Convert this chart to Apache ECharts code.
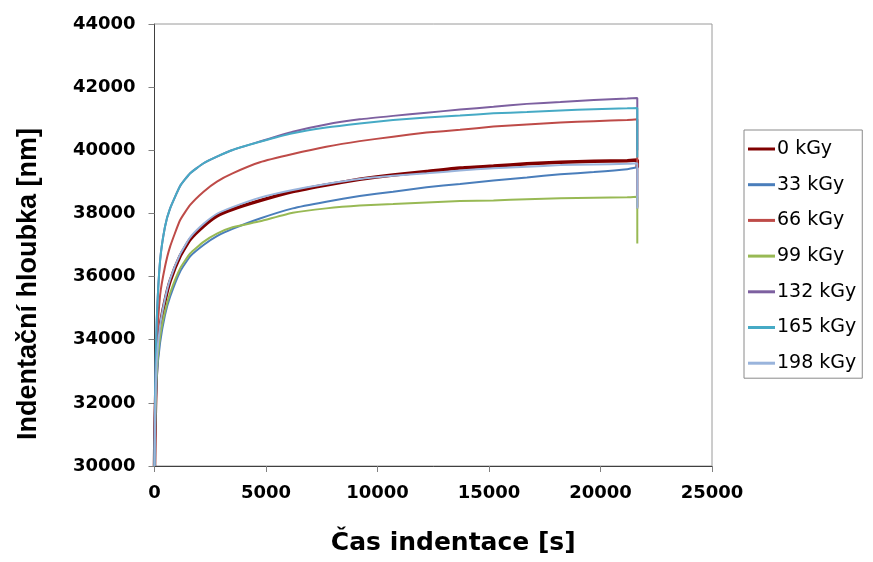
<!DOCTYPE html>
<html>
<head>
<meta charset="utf-8">
<script src="https://cdn.jsdelivr.net/npm/echarts@6/dist/echarts.min.js"></script>
<style>
  html, body { margin: 0; padding: 0; background: #fff; }
  #chart { width: 873px; height: 562px; }
</style>
</head>
<body>
<div id="chart"></div>
<script>
// Time points [s] (last value repeated for the unloading drop)
const times = [0, 30, 100, 250, 470, 700, 1150, 1600, 2200, 2800, 3500, 4730, 6200, 7700, 9200, 10700, 12200, 13700, 15200, 16700, 18200, 19700, 21200, 21650, 21650];

const seriesNames = ["0 kGy", "33 kGy", "66 kGy", "99 kGy", "132 kGy", "165 kGy", "198 kGy"];

const depth0   = [30000, 31500, 33200, 34400, 35230, 35860, 36650, 37180, 37600, 37920, 38130, 38405, 38690, 38900, 39080, 39220, 39330, 39440, 39500, 39570, 39620, 39650, 39670, 39690, 39450];
const depth33  = [30000, 31200, 32800, 33900, 34780, 35360, 36160, 36640, 37000, 37280, 37510, 37840, 38160, 38370, 38550, 38690, 38830, 38930, 39040, 39140, 39240, 39310, 39400, 39460, 38200];
const depth66  = [30000, 32000, 33800, 35400, 36310, 36950, 37790, 38270, 38690, 39010, 39270, 39620, 39880, 40110, 40290, 40430, 40560, 40650, 40750, 40820, 40880, 40920, 40960, 40980, 38160];
const depth99  = [30000, 31300, 33000, 34100, 34900, 35480, 36260, 36730, 37100, 37360, 37560, 37750, 38020, 38160, 38250, 38300, 38350, 38390, 38410, 38450, 38480, 38500, 38510, 38530, 37050];
const depth132 = [30000, 32500, 34600, 36500, 37580, 38160, 38870, 39270, 39590, 39800, 40010, 40280, 40590, 40820, 40980, 41090, 41190, 41290, 41380, 41470, 41530, 41590, 41640, 41660, 40000];
const depth165 = [30000, 32500, 34600, 36500, 37580, 38160, 38870, 39270, 39590, 39800, 40010, 40270, 40540, 40720, 40850, 40960, 41040, 41100, 41170, 41210, 41260, 41300, 41330, 41340, 39770];
const depth198 = [30000, 31600, 33300, 34450, 35290, 35920, 36710, 37240, 37670, 37990, 38200, 38500, 38740, 38930, 39090, 39190, 39270, 39360, 39430, 39480, 39530, 39550, 39570, 39590, 38160];

const allDepths = [depth0, depth33, depth66, depth99, depth132, depth165, depth198];
const colors = ["#800000", "#4A7EBB", "#BE4B48", "#98B954", "#7D60A0", "#46AAC5", "#99B4DC"];
const widths = [3.5, 2, 2, 2, 2, 2, 2];

const chart = echarts.init(document.getElementById('chart'), null, { renderer: 'canvas' });

const series = seriesNames.map((name, k) => ({
  name: name,
  type: 'line',
  symbol: 'none',
  smooth: 0.15,
  data: times.map((t, i) => [t, allDepths[k][i]]),
  lineStyle: { color: colors[k], width: widths[k] },
  itemStyle: { color: colors[k] },
  emphasis: { disabled: true },
  animation: false
}));

const tickFont = { fontFamily: 'DejaVu Sans', fontWeight: 'bold', fontSize: 18, color: '#000' };
const plain = v => String(v);

chart.setOption({
  animation: false,
  backgroundColor: '#fff',
  grid: {
    left: 154.5, right: 161, top: 24, bottom: 96,
    show: true, borderColor: '#9a9a9a', borderWidth: 1, backgroundColor: 'transparent'
  },
  legend: {
    orient: 'vertical',
    left: 744, top: 130,
    padding: [9, 6, 5, 4],
    icon: 'rect',
    itemWidth: 27, itemHeight: 3, itemGap: 15.7,
    borderColor: '#8a8a8a', borderWidth: 1,
    textStyle: { fontFamily: 'DejaVu Sans', fontSize: 19, color: '#000', lineHeight: 20, padding: [0, 0, 0, -3] },
    data: seriesNames
  },
  xAxis: {
    type: 'value', min: 0, max: 25000, interval: 5000,
    name: 'Čas indentace [s]',
    nameLocation: 'middle', nameGap: 65,
    nameTextStyle: { fontFamily: 'DejaVu Sans', fontWeight: 'bold', fontSize: 25, color: '#000', padding: [0, 0, 0, 40] },
    axisLine: { show: true, lineStyle: { color: '#404040', width: 1 } },
    axisTick: { show: true, inside: false, length: 6, lineStyle: { color: '#808080' } },
    axisLabel: Object.assign({ margin: 18, formatter: plain }, tickFont),
    splitLine: { show: false }
  },
  yAxis: {
    type: 'value', min: 30000, max: 44000, interval: 2000,
    name: 'Indentační hloubka [nm]',
    nameLocation: 'middle', nameGap: 112, nameRotate: 90,
    nameTextStyle: { fontFamily: 'Liberation Sans', fontWeight: 'bold', fontSize: 27, color: '#000', padding: [0, 78, 0, 0] },
    axisLine: { show: true, lineStyle: { color: '#404040', width: 1 } },
    axisTick: { show: true, inside: false, length: 6, lineStyle: { color: '#808080' } },
    axisLabel: Object.assign({ margin: 19, formatter: plain }, tickFont),
    splitLine: { show: false }
  },
  series: series
});
</script>
</body>
</html>
